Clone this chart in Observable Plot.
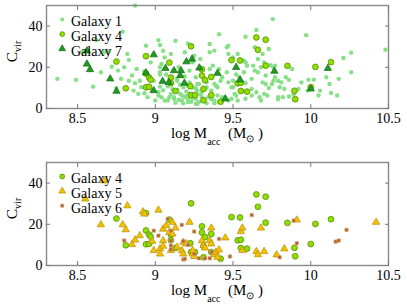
<!DOCTYPE html>
<html><head><meta charset="utf-8">
<script src="https://cdn.jsdelivr.net/npm/d3@7"></script>
<script src="https://cdn.jsdelivr.net/npm/@observablehq/plot@0.6"></script>
<style>
html,body{margin:0;padding:0;background:#fff;}
#chart svg{display:block;}
</style></head><body><div id="chart"></div>
<script>
const xTicks = [8.5, 9, 9.5, 10, 10.5];
const yTicks = [0, 20, 40];
const xDomain = [8.3, 10.5];
const yDomain = [0, 50];

const galaxy1 = [
[8.37,14.4],[8.49,13.9],[8.53,27.3],[8.62,33.2],[8.60,10.6],[8.67,27.3],[8.70,27.7],[8.72,20.3],[8.65,17.6],[8.75,10.0],
[8.76,18.4],[8.78,14.4],[8.80,20.0],[8.82,26.5],[8.83,23.5],[8.83,13.5],[8.85,16.0],[8.86,8.7],[8.87,12.3],[8.88,19.2],
[8.89,7.1],[8.90,13.5],[8.91,10.3],[8.93,7.4],[8.93,18.1],[8.94,30.5],[8.95,5.5],[8.96,11.1],[8.97,22.4],[8.98,8.7],
[8.99,13.5],[9.00,3.9],[9.02,6.3],[9.03,10.6],[9.03,17.6],[8.79,37.3],[8.87,50.0],[9.05,28.0],[9.02,33.2],
[9.02,7.9],[9.04,5.5],[9.06,3.9],[9.09,5.5],[9.12,4.7],[9.16,7.1],[9.17,3.9],[9.19,5.5],[9.21,3.1],[9.26,4.7],
[9.28,3.1],[9.31,3.9],[9.34,5.5],[9.38,3.9],[9.41,3.1],[9.43,5.5],[9.47,3.9],[9.49,4.7],[9.52,6.3],[9.53,3.9],
[9.58,4.7],[9.62,6.3],[9.65,7.9],[9.68,3.9],[9.70,7.1],
[9.03,20.0],[9.03,16.5],[9.07,16.5],[9.14,14.4],[9.19,15.5],[9.21,11.1],[9.22,18.4],[9.26,15.2],[9.27,11.9],[9.33,12.7],
[9.35,19.2],[9.38,11.9],[9.40,10.3],[9.43,15.2],[9.46,17.6],[9.47,12.7],[9.50,10.3],[9.52,16.5],[9.57,17.6],[9.58,12.3],
[9.62,14.4],[9.63,20.8],[9.66,17.6],[9.69,12.7],[9.71,16.0],[9.73,10.0],[9.76,13.5],
[9.03,30.8],[9.13,32.9],[9.21,31.6],[9.25,25.6],[9.35,31.3],[9.35,27.3],[9.38,28.1],[9.41,36.1],[9.46,29.7],[9.47,26.5],
[9.50,24.8],[9.57,23.2],[9.58,34.8],[9.64,29.7],[9.65,38.1],[9.69,26.5],[9.70,22.4],[9.76,20.0],
[9.04,21.6],[9.06,24.8],[9.08,3.9],[9.10,26.5],[9.11,9.5],[9.12,5.5],[9.14,13.5],[9.15,20.0],[9.17,6.3],[9.18,10.3],
[9.19,27.3],[9.21,4.7],[9.22,12.7],[9.24,22.4],[9.24,10.3],[9.26,2.3],[9.27,8.7],[9.28,11.9],[9.29,24.0],[9.30,5.5],
[9.36,8.7],[9.37,20.8],[9.38,2.6],[9.39,11.1],[9.40,6.3],[9.41,19.2],[9.42,13.5],[9.43,3.9],[9.47,30.5],[9.49,10.3],
[9.50,13.5],[9.51,7.1],[9.53,26.5],[9.54,15.2],[9.58,22.4],[9.59,20.8],[9.62,9.5],[9.64,18.4],[9.66,24.0],[9.67,5.5],
[9.68,20.0],[9.71,11.9],[9.72,6.3],[9.73,28.9],
[9.13,2.8],[9.15,4.2],[9.18,2.5],[9.20,6.0],[9.23,3.3],[9.24,5.0],[9.27,2.2],[9.29,6.8],[9.33,2.5],[9.36,4.5],
[9.05,8.8],[9.08,10.8],[9.10,7.0],[9.14,9.0],[9.16,11.5],[9.20,8.3],[9.22,7.2],[9.26,9.8],[9.30,8.0],[9.33,10.2],
[9.74,21.0],[9.755,43.4],[9.75,11.9],[9.77,15.2],[9.77,20.8],[9.79,13.5],[9.80,10.3],[9.79,5.5],[9.79,4.5],[9.81,12.7],
[9.82,5.5],[9.83,9.5],[9.84,15.2],[9.86,5.8],[9.86,13.9],[9.88,19.2],[9.89,6.9],[9.92,9.5],[9.94,12.7],[9.97,35.6],
[9.98,8.7],[9.985,14.0],[10.02,14.0],[10.05,6.3],[10.06,8.7],[10.10,15.2],[10.12,11.9],[10.13,7.5],[10.17,6.3],[10.18,14.4],
[10.21,24.5],[10.26,27.1],[10.26,17.6],[10.48,28.5]
];

const galaxy4 = [
[8.75,22.8],[8.81,9.8],[8.94,25.4],[8.94,17.0],[8.96,15.0],[8.97,14.0],[8.94,10.3],[8.96,10.5],[9.09,22.3],[9.10,15.0],
[9.10,12.3],[9.13,8.5],[9.23,30.2],[9.225,10.8],[9.23,6.5],[9.255,6.5],[9.30,19.0],[9.30,16.0],[9.32,13.8],[9.31,9.5],
[9.31,4.0],[9.36,15.3],[9.36,6.5],[9.42,3.3],[9.49,23.5],[9.545,23.3],[9.53,12.2],[9.55,12.5],[9.55,8.5],[9.59,8.2],
[9.65,34.5],[9.66,28.5],[9.71,33.4],[9.71,20.8],[9.85,20.7],[9.895,8.6],[9.90,4.5],[10.0,10.4],[10.03,20.2],[10.13,22.5]
];

const galaxy7 = [
[8.56,28.0],[8.56,21.6],[8.58,18.9],[8.71,14.4],[8.75,8.4],[8.94,17.3],[8.99,26.1],[8.99,8.7],[9.065,19.5],[9.047,13.2],
[9.086,12.7],[9.12,18.4],[9.16,16.0],[9.165,18.4],[9.20,22.7],[9.236,24.0],[9.187,12.3],[9.283,19.7],[9.40,17.1],[9.45,4.7],
[9.52,20.0],[9.545,13.9],[9.766,18.1],[10.0,9.5],[10.11,19.5]
];

const galaxy5 = [
[8.55,32.3],[8.67,41.1],[8.65,19.8],[8.79,19.8],[8.81,17.4],[8.82,29.0],[8.85,10.2],[8.87,12.4],[8.90,14.5],[8.92,26.1],
[8.93,25.0],[8.98,11.8],[8.99,7.3],[9.02,26.9],[9.03,8.1],[9.03,5.6],[9.05,12.1],[9.05,9.4],[9.05,17.7],[9.07,19.4],
[9.09,16.1],[9.10,7.3],[9.11,21.0],[9.11,15.3],[9.13,18.2],[9.14,8.9],[9.17,7.3],[9.18,5.6],[9.18,11.3],[9.20,10.5],
[9.22,21.0],[9.24,5.6],[9.24,7.3],[9.25,4.4],[9.30,12.1],[9.31,9.7],[9.32,8.5],[9.35,12.1],[9.36,10.5],[9.36,18.2],
[9.38,5.3],[9.39,6.5],[9.40,4.0],[9.41,7.6],[9.45,13.4],[9.55,16.5],[9.56,18.2],[9.56,7.3],[9.65,6.8],[9.66,5.3],
[9.68,18.2],[9.70,6.8],[9.78,5.2],[9.83,8.1],[9.91,22.1],[10.42,21.0]
];

const galaxy6 = [
[8.80,12.1],[8.99,16.9],[9.02,14.5],[9.08,22.6],[9.10,16.9],[9.10,12.1],[9.10,9.7],[9.10,7.7],[9.17,19.7],[9.18,11.8],
[9.18,2.9],[9.19,3.2],[9.21,10.0],[9.25,16.5],[9.25,5.6],[9.28,3.5],[9.32,3.5],[9.35,3.5],[9.36,6.5],[9.41,12.9],
[9.48,4.4],[9.62,24.5],[9.80,4.0],[9.89,21.8],[9.91,10.8],[10.16,11.6],[10.18,12.1],[10.23,17.3]
];

const SERIF = "'Liberation Serif','Times New Roman',serif";
const styles = {
  "Galaxy 1": {symbol: "circle", r: 2.2, fill: "#86e086", stroke: "none", lr: 2.0},
  "Galaxy 4": {symbol: "circle", r: 2.9, fill: "#8ee000", stroke: "#5b8a00", strokeWidth: 0.8, lr: 2.4},
  "Galaxy 7": {symbol: "triangle", r: 2.7, fill: "#1f9b1f", stroke: "#116b11", strokeWidth: 0.7, lr: 2.5},
  "Galaxy 5": {symbol: "triangle", r: 2.7, fill: "#f2c200", stroke: "#b58c00", strokeWidth: 0.7, lr: 2.5},
  "Galaxy 6": {symbol: "square", r: 1.9, fill: "#b4641c", stroke: "#dca28c", strokeWidth: 0.6, lr: 1.8}
};

function panel(series, {height, marginTop, marginBottom}) {
  const marks = [];
  for (const s of series) {
    const st = styles[s.name];
    marks.push(Plot.dot(s.data, {x: d => d[0], y: d => d[1], symbol: st.symbol, r: st.r, fill: st.fill, stroke: st.stroke, strokeWidth: st.strokeWidth}));
  }
  marks.push(Plot.frame({stroke: "#888", strokeWidth: 1.4}));
  marks.push(Plot.axisX(xTicks, {tickSize: 0, tickPadding: 5, tickFormat: d => `${d}`, label: null, fontSize: 14}));
  marks.push(Plot.axisX(xTicks, {tickSize: -4, tickFormat: () => "", label: null, stroke: "#777"}));
  marks.push(Plot.axisX(xTicks, {anchor: "top", tickSize: -4, tickFormat: () => "", label: null, stroke: "#777"}));
  marks.push(Plot.axisY(yTicks, {tickSize: 0, tickPadding: 4, tickFormat: d => `${d}`, label: null, fontSize: 14}));
  marks.push(Plot.axisY(yTicks, {tickSize: -4, tickFormat: () => "", label: null, stroke: "#777"}));
  marks.push(Plot.axisY(yTicks, {anchor: "right", tickSize: -4, tickFormat: () => "", label: null, stroke: "#777"}));
  series.forEach((s, i) => {
    const st = styles[s.name];
    const dy = 14 + i * 14.6;
    marks.push(Plot.dot([s.name], {frameAnchor: "top-left", dx: 15.7, dy, symbol: st.symbol, r: st.lr, fill: st.fill, stroke: st.stroke, strokeWidth: st.strokeWidth}));
    marks.push(Plot.text([s.name], {frameAnchor: "top-left", dx: 24.5, dy: dy - 3, text: d => d, textAnchor: "start", fontSize: 14, fill: "black"}));
  });
  const svg = Plot.plot({
    width: 407, height, marginLeft: 46, marginRight: 19, marginTop, marginBottom,
    x: {domain: xDomain, label: null}, y: {domain: yDomain, label: null},
    style: {fontFamily: SERIF, fontSize: "14px", color: "black", background: "white"},
    marks
  });
  const s = d3.select(svg);
  const fTop = marginTop, fBot = height - marginBottom;
  const cy = (fTop + fBot) / 2 - 5;
  const yl = s.append("text").attr("transform", `translate(17,${cy}) rotate(-90)`)
    .attr("text-anchor", "middle").attr("font-family", SERIF).attr("font-size", 15.5).attr("fill", "black");
  yl.append("tspan").text("C");
  yl.append("tspan").attr("font-size", 10).attr("dy", 4).text("vir");
  const xl = s.append("text").attr("x", 217).attr("y", fBot + 29.5)
    .attr("text-anchor", "middle").attr("font-family", SERIF).attr("font-size", 15).attr("fill", "black");
  xl.append("tspan").text("log M");
  xl.append("tspan").attr("font-size", 10).attr("dy", 7).text("acc");
  xl.append("tspan").attr("dy", -7).text("\u00a0\u00a0(M");
  xl.append("tspan").attr("font-size", 10).attr("dy", 4).text("\u2299");
  xl.append("tspan").attr("dy", -4).text("\u00a0)");
  return svg;
}

const root = document.getElementById("chart");
root.append(panel([
  {name: "Galaxy 1", data: galaxy1},
  {name: "Galaxy 4", data: galaxy4},
  {name: "Galaxy 7", data: galaxy7}
], {height: 150, marginTop: 5, marginBottom: 42}));
root.append(panel([
  {name: "Galaxy 4", data: galaxy4},
  {name: "Galaxy 5", data: galaxy5},
  {name: "Galaxy 6", data: galaxy6}
], {height: 155, marginTop: 12, marginBottom: 40}));
</script></body></html>
